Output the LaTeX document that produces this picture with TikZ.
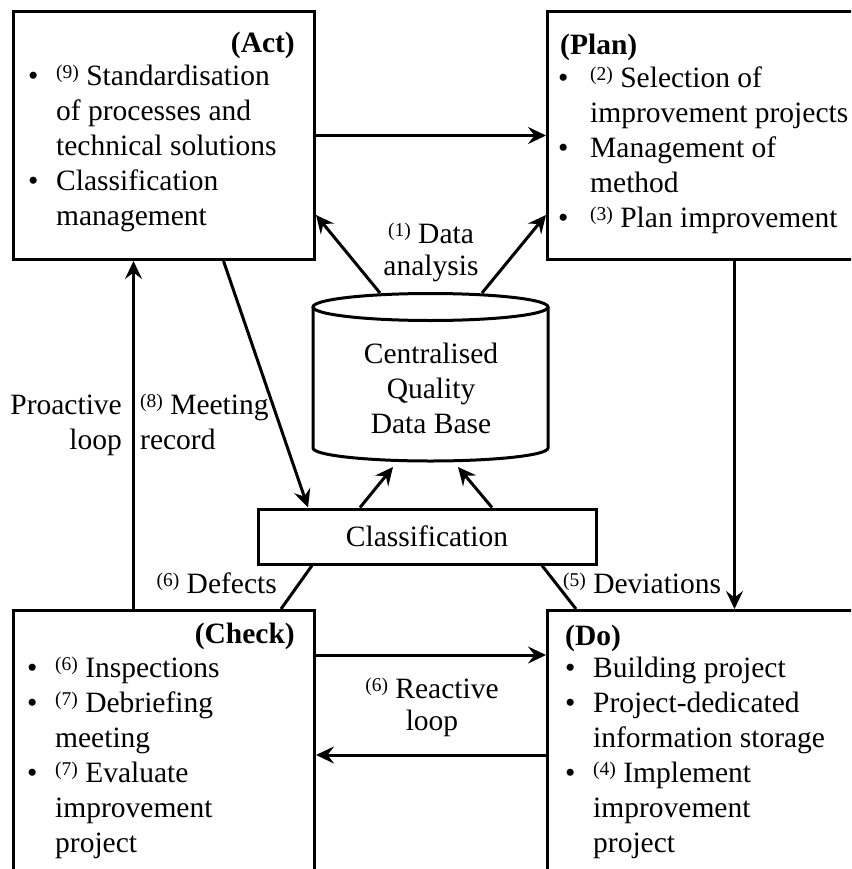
\documentclass[tikz,border=0pt]{standalone}
\usepackage{fontspec}
\setmainfont{Liberation Serif}
\usetikzlibrary{arrows.meta}
\newcommand\supn[1]{\raisebox{7pt}{\fontsize{19.5}{19.5}\selectfont(#1)}}
\begin{document}
\begin{tikzpicture}[x=1pt,y=-1pt,
  txt/.style={inner sep=0pt, font=\fontsize{29.5}{35}\selectfont},
  box/.style={draw, line width=3pt, rectangle, inner sep=0pt, anchor=north west},
  ln/.style={line width=3pt},
  arr/.style={line width=3pt, -{Stealth[length=18pt,width=17pt,inset=6.5pt]}}]
\clip (0,0) rectangle (851,869);
\fill[white] (0,0) rectangle (851,869);
% boxes
\node[box, minimum width=301pt, minimum height=248pt] (act) at (12,10) {};
\node[box, minimum width=330pt, minimum height=248pt] (plan) at (546,10) {};
\node[box, minimum width=301pt, minimum height=300pt] (check) at (12,609) {};
\node[box, minimum width=330pt, minimum height=300pt] (do) at (546,609) {};
\node[box, minimum width=338pt, minimum height=55pt, anchor=center, txt, line width=3pt] (cls) at (427,536.5) {Classification};
% cylinder
\draw[ln] (313,307) -- (313,448) arc[start angle=180, end angle=360, x radius=117.5pt, y radius=13pt] -- (548,307);
\draw[ln] (430.5,307) ellipse[x radius=117.5pt, y radius=13.5pt];
\node[txt, anchor=base] (db) at (431,363) {\begin{tabular}[t]{@{}c@{}}Centralised\\Quality\\Data Base\end{tabular}};
\coordinate (dbtopL) at (380,293);
\coordinate (dbtopR) at (482,293);
\coordinate (dbbotL) at (393,467);
\coordinate (dbbotR) at (458,467);
% headers
\node[txt, anchor=base east] (acth) at (295,53) {\textbf{(Act)}};
\node[txt, anchor=base west] (planh) at (560,55) {\textbf{(Plan)}};
\node[txt, anchor=base east] (checkh) at (295,643) {\textbf{(Check)}};
\node[txt, anchor=base west] (doh) at (565,645) {\textbf{(Do)}};
% box contents
\node[txt, anchor=base west] (acti) at (28,86) {\begin{tabular}[t]{@{}p{28pt}@{}l@{}}
\textbullet & \supn{9} Standardisation\\
 & of processes and\\
 & technical solutions\\
\textbullet & Classification\\
 & management
\end{tabular}};
\node[txt, anchor=base west] (plani) at (558,88) {\begin{tabular}[t]{@{}p{32pt}@{}l@{}}
\textbullet & \supn{2} Selection of\\
 & improvement projects\\
\textbullet & Management of\\
 & method\\
\textbullet & \supn{3} Plan improvement
\end{tabular}};
\node[txt, anchor=base west] (checki) at (27,677) {\begin{tabular}[t]{@{}p{28pt}@{}l@{}}
\textbullet & \supn{6} Inspections\\
\textbullet & \supn{7} Debriefing\\
 & meeting\\
\textbullet & \supn{7} Evaluate\\
 & improvement\\
 & project
\end{tabular}};
\node[txt, anchor=base west] (doi) at (565,677) {\begin{tabular}[t]{@{}p{28pt}@{}l@{}}
\textbullet & Building project\\
\textbullet & Project-dedicated\\
 & information storage\\
\textbullet & \supn{4} Implement\\
 & improvement\\
 & project
\end{tabular}};
% labels
\node[txt, anchor=base] (dal) at (431,243) {\begin{tabular}[t]{@{}c@{}}\supn{1} Data\\[-3pt]analysis\end{tabular}};
\node[txt, anchor=base east] (pro) at (122,414) {\begin{tabular}[t]{@{}r@{}}Proactive\\loop\end{tabular}};
\node[txt, anchor=base west] (mrec) at (140,414) {\begin{tabular}[t]{@{}l@{}}\supn{8} Meeting\\record\end{tabular}};
\node[txt, anchor=base east] (defl) at (277,593) {\supn{6} Defects};
\node[txt, anchor=base west] (devl) at (563,593) {\supn{5} Deviations};
\node[txt, anchor=base] (rea) at (432,698) {\begin{tabular}[t]{@{}c@{}}\supn{6} Reactive\\[-3pt]loop\end{tabular}};
% connectors
\draw[arr] (act.east) -- (plan.west);
\draw[arr] (dbtopL) -- ([yshift=46pt]act.south east);
\draw[arr] (dbtopR) -- ([yshift=46pt]plan.south west);
\draw[arr] ([xshift=22pt]plan.south) -- ([xshift=22pt]do.north);
\draw[arr] ([xshift=59.5pt]act.south) -- ([xshift=-119pt]cls.north);
\draw[arr] ([xshift=-67pt]cls.north) -- (dbbotL);
\draw[arr] ([xshift=65pt]cls.north) -- (dbbotR);
\draw[ln] ([xshift=-115pt]cls.south) -- ([xshift=-35pt]check.north east);
\draw[ln] ([xshift=115pt]cls.south) -- ([xshift=30pt]do.north west);
\draw[arr] ([xshift=-30.5pt]check.north) -- ([xshift=-30.5pt]act.south);
\draw[arr] ([yshift=-46pt]check.north east) -- ([yshift=-46pt]do.north west);
\draw[arr] ([yshift=-146pt]do.north west) -- ([yshift=-146pt]check.north east);
\end{tikzpicture}
\end{document}
